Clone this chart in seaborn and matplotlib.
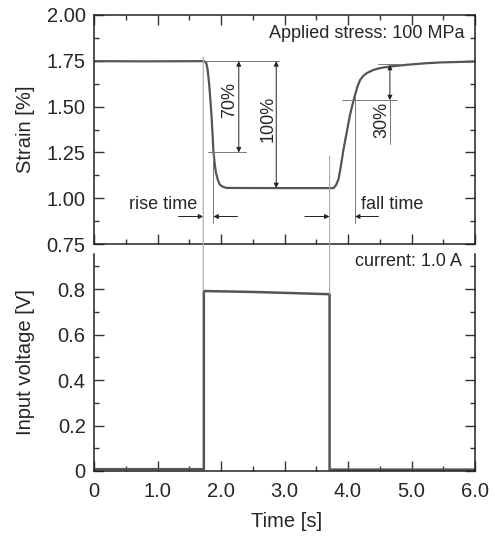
import matplotlib
matplotlib.use("Agg")
import matplotlib.pyplot as plt
import seaborn as sns
from matplotlib.patches import ConnectionPatch
from matplotlib.ticker import MultipleLocator, FixedLocator

# ---- data ----
strain_t = [0.0, 0.8, 1.72, 1.75, 1.77, 1.79, 1.81, 1.83, 1.85, 1.87, 1.88, 1.90, 1.92,
            1.95, 1.98, 2.03, 2.09, 3.0, 3.77, 3.81, 3.85, 3.89, 3.93, 3.98, 4.03,
            4.07, 4.11, 4.15, 4.19, 4.24, 4.29, 4.40, 4.50, 4.66, 4.92, 5.20, 5.45, 6.0]
strain_v = [1.748, 1.747, 1.748, 1.745, 1.735, 1.70, 1.636, 1.55, 1.452, 1.33, 1.259, 1.19, 1.14,
            1.10, 1.075, 1.062, 1.056, 1.055, 1.055, 1.07, 1.103, 1.18, 1.268, 1.36, 1.452,
            1.51, 1.563, 1.61, 1.645, 1.667, 1.682, 1.700, 1.710, 1.719, 1.728, 1.736, 1.741, 1.746]

volt_t = [0.0, 1.73, 1.73, 2.5, 3.0, 3.71, 3.71, 6.0]
volt_v = [0.008, 0.008, 0.792, 0.788, 0.784, 0.778, 0.006, 0.006]

x_ticks = [0, 1, 2, 3, 4, 5, 6]
x_ticklabels = ["0", "1.0", "2.0", "3.0", "4.0", "5.0", "6.0"]
strain_ticks = [0.75, 1.00, 1.25, 1.50, 1.75, 2.00]
strain_ticklabels = ["0.75", "1.00", "1.25", "1.50", "1.75", "2.00"]
volt_ticks = [0, 0.2, 0.4, 0.6, 0.8]
volt_ticklabels = ["0", "0.2", "0.4", "0.6", "0.8"]

stress_label = "Applied stress: 100 MPa"
current_label = "current: 1.0 A"

sns.set_style("ticks")
plt.rcParams["font.family"] = ["Liberation Sans", "DejaVu Sans"]

fig = plt.figure(figsize=(4.95, 5.39), dpi=100)
W, H = 495, 539
ax1 = fig.add_axes([94 / W, 1 - 244 / H, 381 / W, 229 / H])
ax2 = fig.add_axes([94 / W, 1 - 471 / H, 381 / W, 217 / H])

line_col = "#555555"
sns.lineplot(x=strain_t, y=strain_v, ax=ax1, color=line_col, lw=1.6,
             estimator=None, sort=False)
sns.lineplot(x=volt_t, y=volt_v, ax=ax2, color=line_col, lw=1.8,
             estimator=None, sort=False)

tick_fs = 14.5
for ax in (ax1, ax2):
    ax.set_xlim(0, 6)
    ax.xaxis.set_major_locator(FixedLocator(x_ticks))
    ax.xaxis.set_minor_locator(MultipleLocator(0.5))
    ax.tick_params(which="both", direction="in", top=True, right=True,
                   width=1.0, color="#333333")
    ax.tick_params(which="major", length=7, labelsize=tick_fs, pad=6)
    ax.tick_params(which="minor", length=3.5)
    for s in ax.spines.values():
        s.set_linewidth(1.1)
        s.set_color("#222222")

ax1.set_ylim(0.75, 2.00)
ax1.yaxis.set_major_locator(FixedLocator(strain_ticks))
ax1.set_yticklabels(strain_ticklabels)
ax1.yaxis.set_minor_locator(MultipleLocator(0.125))
ax1.tick_params(axis="x", labelbottom=False)

ax2.set_ylim(0, 0.955)
ax2.yaxis.set_major_locator(FixedLocator(volt_ticks))
ax2.set_yticklabels(volt_ticklabels)
ax2.yaxis.set_minor_locator(MultipleLocator(0.1))
ax2.spines["top"].set_visible(False)
ax2.tick_params(which="both", top=False)
ax2.set_xticks(x_ticks)
ax2.set_xticklabels(x_ticklabels)
ax2.tick_params(axis="x", pad=8)

lab_fs = 14.5
ax1.set_ylabel("Strain [%]", fontsize=lab_fs)
ax2.set_ylabel("Input voltage [V]", fontsize=lab_fs)
ax2.set_xlabel("Time [s]", fontsize=lab_fs)
ax1.yaxis.set_label_coords(-0.155, 0.5)
ax2.yaxis.set_label_coords(-0.155, 0.5)
ax2.xaxis.set_label_coords(0.506, -0.19)

# ---- annotations ----
ann_fs = 13
thin = dict(color="#777777", lw=0.7)
ax1.plot([1.72, 2.92], [1.748, 1.748], **thin)
ax1.plot([1.80, 2.40], [1.25, 1.25], **thin)
ax1.plot([1.88, 1.88], [1.26, 0.865], **thin)
ax1.plot([3.90, 4.77], [1.535, 1.535], **thin)
ax1.plot([4.11, 4.11], [1.55, 0.865], **thin)
ax1.plot([4.47, 4.85], [1.733, 1.733], **thin)
ax1.plot([4.66, 4.66], [1.535, 1.296], **thin)

arr2 = dict(arrowstyle="<|-|>", lw=0.7, color="#222222", mutation_scale=7,
            shrinkA=0, shrinkB=0)
arr1 = dict(arrowstyle="-|>", lw=0.7, color="#222222", mutation_scale=7,
            shrinkA=0, shrinkB=0)
ax1.annotate("", xy=(2.28, 1.25), xytext=(2.28, 1.748), arrowprops=arr2)
ax1.annotate("", xy=(2.87, 1.055), xytext=(2.87, 1.748), arrowprops=arr2)
ax1.annotate("", xy=(4.66, 1.535), xytext=(4.66, 1.728), arrowprops=arr2)
ax1.text(2.14, 1.535, "70%", rotation=90, ha="center", va="center", fontsize=ann_fs)
ax1.text(2.75, 1.434, "100%", rotation=90, ha="center", va="center", fontsize=ann_fs)
ax1.text(4.53, 1.425, "30%", rotation=90, ha="center", va="center", fontsize=ann_fs)

ax1.annotate("", xy=(1.72, 0.90), xytext=(1.33, 0.90), arrowprops=arr1)
ax1.annotate("", xy=(1.88, 0.90), xytext=(2.26, 0.90), arrowprops=arr1)
ax1.annotate("", xy=(3.71, 0.90), xytext=(3.32, 0.90), arrowprops=arr1)
ax1.annotate("", xy=(4.11, 0.90), xytext=(4.48, 0.90), arrowprops=arr1)
ax1.text(1.09, 0.965, "rise time", ha="center", va="center", fontsize=ann_fs)
ax1.text(4.69, 0.965, "fall time", ha="center", va="center", fontsize=ann_fs)

ax1.text(5.84, 1.897, stress_label, ha="right", va="center", fontsize=ann_fs)
ax2.text(5.79, 0.92, current_label, ha="right", va="center", fontsize=ann_fs)

for t0, s0, v0 in [(1.72, 1.77, 0.792), (3.71, 1.231, 0.778)]:
    cp = ConnectionPatch(xyA=(t0, s0), coordsA=ax1.transData,
                         xyB=(t0, v0), coordsB=ax2.transData,
                         color="#aaaaaa", lw=0.8, zorder=0.5)
    fig.add_artist(cp)

fig.savefig("out.png", dpi=100)
